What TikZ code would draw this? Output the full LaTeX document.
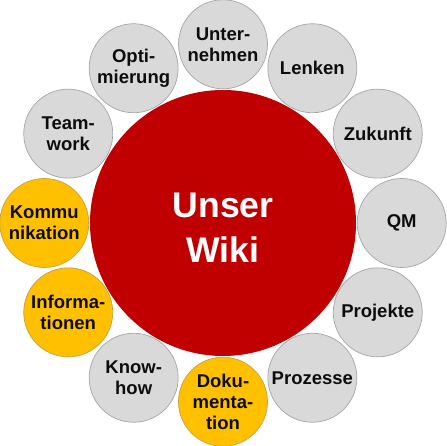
\documentclass[tikz,border=0pt]{standalone}
\usepackage{fontspec}
\setmainfont{Liberation Sans}
\definecolor{wred}{HTML}{C00000}
\definecolor{wgray}{HTML}{D9D9D9}
\definecolor{wgrayline}{HTML}{A6A6A6}
\definecolor{wyellow}{HTML}{FFC000}
\definecolor{wyellowline}{HTML}{C8A040}
\definecolor{wtext}{HTML}{0D0D0D}
\begin{document}
\begin{tikzpicture}[x=1pt,y=1pt,
  bubble/.style={circle, minimum size=89pt, inner sep=0pt, line width=0.7pt,
    align=center, text=wtext, font=\fontsize{18.5}{21}\selectfont\bfseries},
  graybubble/.style={bubble, fill=wgray, draw=wgrayline},
  yellowbubble/.style={bubble, fill=wyellow, draw=wyellowline},
  hub/.style={circle, minimum size=266pt, inner sep=0pt, fill=wred, draw=none,
    align=center, text=white, font=\fontsize{35.6}{45}\selectfont\bfseries}]
\useasboundingbox (0,0) rectangle (446,446);
\coordinate (c) at (223,223);
\node[hub] (wiki) at (c) {\rule{0pt}{33.6pt}Unser\\Wiki};
\node[graybubble] (qm) at ([shift={(0:178.7)}]c) {QM};
\node[graybubble] (zukunft) at ([shift={(30:178.7)}]c) {Zukunft};
\node[graybubble] (lenken) at ([shift={(60:178.7)}]c) {Lenken};
\node[graybubble] (unternehmen) at ([shift={(90:178.7)}]c) {Unter-\\nehmen};
\node[graybubble] (optimierung) at ([shift={(120:178.7)}]c) {Opti-\\mierung};
\node[graybubble] (teamwork) at ([shift={(150:178.7)}]c) {Team-\\work};
\node[yellowbubble] (kommunikation) at ([shift={(180:178.7)}]c) {Kommu\\nikation};
\node[yellowbubble] (informationen) at ([shift={(210:178.7)}]c) {Informa-\\tionen};
\node[graybubble] (knowhow) at ([shift={(240:178.7)}]c) {Know-\\how};
\node[yellowbubble] (dokumentation) at ([shift={(270:178.7)}]c) {Doku-\\menta-\\tion};
\node[graybubble] (prozesse) at ([shift={(300:178.7)}]c) {Prozesse};
\node[graybubble] (projekte) at ([shift={(330:178.7)}]c) {Projekte};
\end{tikzpicture}
\end{document}
